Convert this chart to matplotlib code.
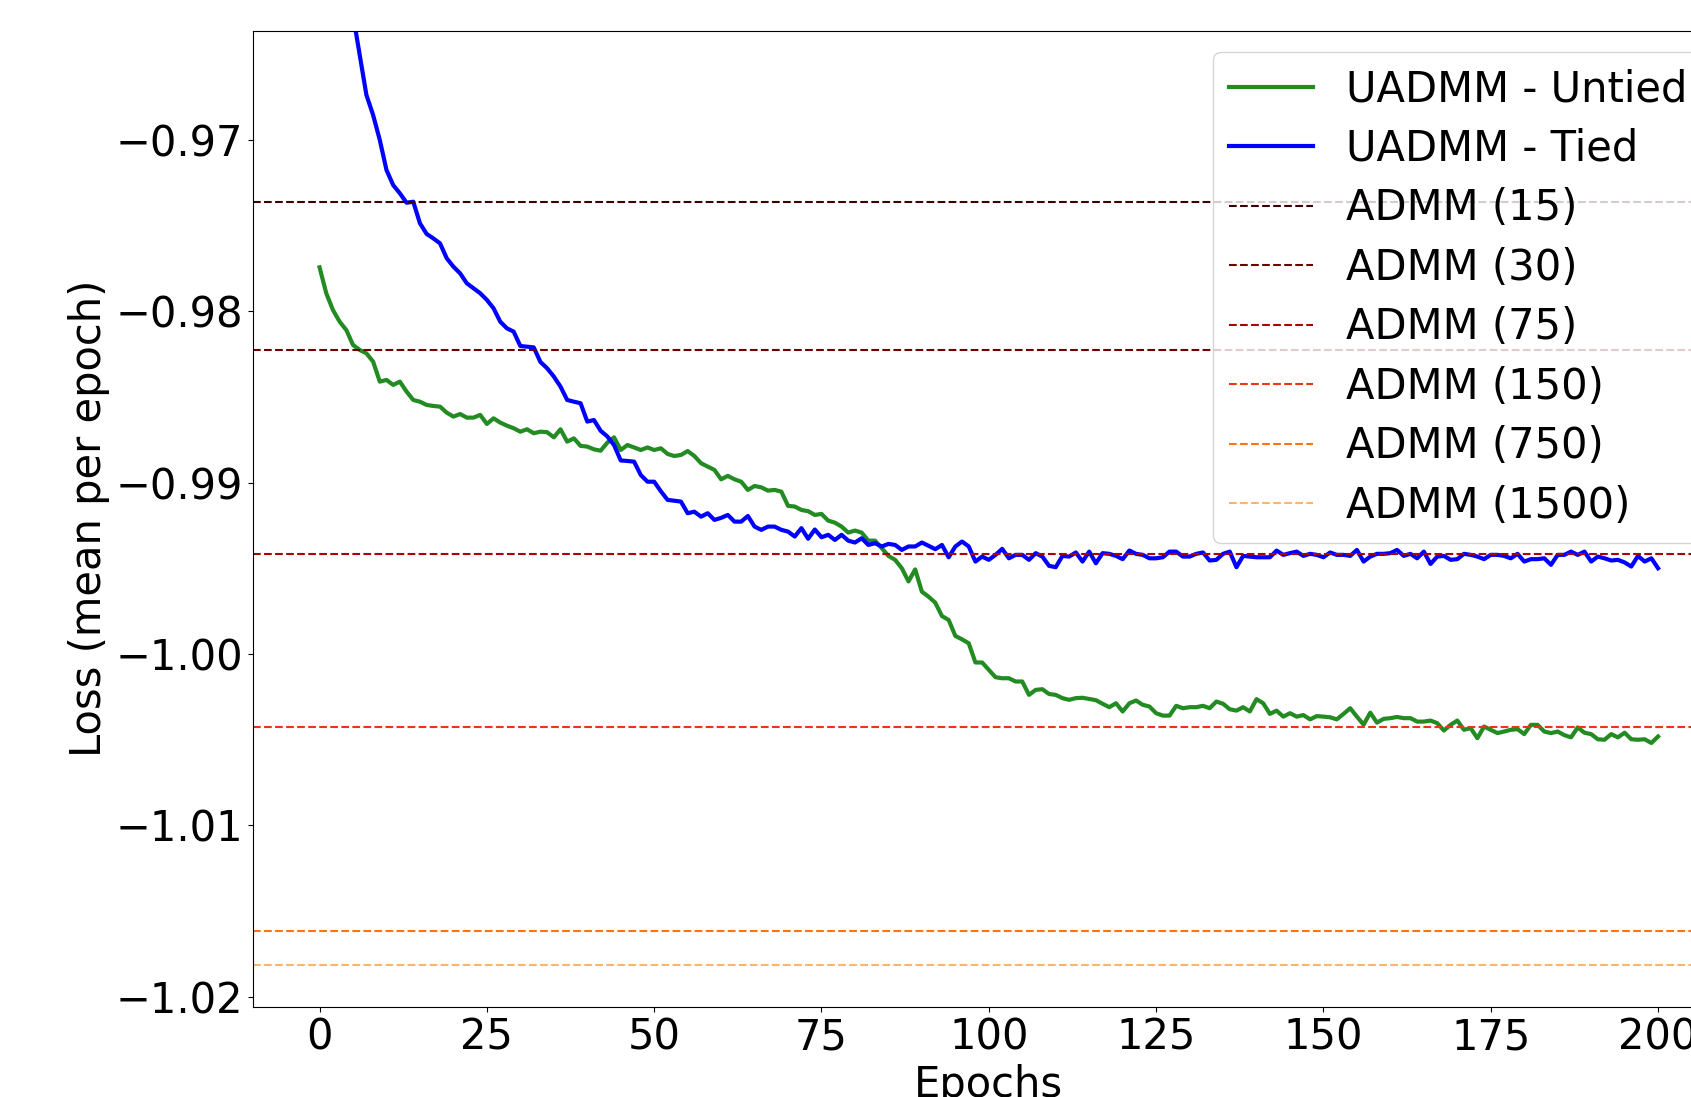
import numpy as np
import matplotlib
matplotlib.use("Agg")
import matplotlib.pyplot as plt

plt.rcParams["font.size"] = 30

epochs = np.arange(201)

# UADMM - Untied (mean loss per epoch)
loss_untied = [
    -0.97743, -0.97894, -0.97992, -0.98060, -0.98109, -0.98196, -0.98225, -0.98245, -0.98293, -0.98410,
    -0.98400, -0.98429, -0.98410, -0.98468, -0.98517, -0.98527, -0.98546, -0.98552, -0.98556, -0.98591,
    -0.98614, -0.98599, -0.98620, -0.98620, -0.98604, -0.98657, -0.98624, -0.98649, -0.98667, -0.98682,
    -0.98702, -0.98688, -0.98711, -0.98702, -0.98705, -0.98735, -0.98688, -0.98760, -0.98741, -0.98785,
    -0.98789, -0.98805, -0.98813, -0.98766, -0.98735, -0.98809, -0.98780, -0.98794, -0.98809, -0.98794,
    -0.98809, -0.98799, -0.98832, -0.98844, -0.98838, -0.98815, -0.98844, -0.98886, -0.98906, -0.98925,
    -0.98980, -0.98960, -0.98980, -0.98994, -0.99042, -0.99019, -0.99027, -0.99046, -0.99042, -0.99052,
    -0.99135, -0.99139, -0.99159, -0.99166, -0.99188, -0.99182, -0.99221, -0.99233, -0.99256, -0.99291,
    -0.99279, -0.99291, -0.99338, -0.99338, -0.99382, -0.99427, -0.99450, -0.99499, -0.99576, -0.99506,
    -0.99636, -0.99665, -0.99700, -0.99778, -0.99801, -0.99894, -0.99914, -0.99937, -1.00049, -1.00049,
    -1.00092, -1.00135, -1.00141, -1.00141, -1.00160, -1.00160, -1.00238, -1.00209, -1.00205, -1.00233,
    -1.00238, -1.00257, -1.00267, -1.00257, -1.00255, -1.00262, -1.00269, -1.00290, -1.00310, -1.00287,
    -1.00335, -1.00287, -1.00271, -1.00296, -1.00306, -1.00345, -1.00359, -1.00359, -1.00302, -1.00316,
    -1.00310, -1.00310, -1.00302, -1.00316, -1.00277, -1.00290, -1.00322, -1.00330, -1.00310, -1.00335,
    -1.00263, -1.00287, -1.00349, -1.00330, -1.00365, -1.00345, -1.00365, -1.00356, -1.00381, -1.00362,
    -1.00365, -1.00369, -1.00381, -1.00349, -1.00316, -1.00365, -1.00412, -1.00342, -1.00400, -1.00378,
    -1.00374, -1.00367, -1.00374, -1.00374, -1.00394, -1.00394, -1.00388, -1.00403, -1.00446, -1.00413,
    -1.00388, -1.00442, -1.00432, -1.00491, -1.00423, -1.00442, -1.00461, -1.00452, -1.00442, -1.00438,
    -1.00467, -1.00413, -1.00413, -1.00452, -1.00461, -1.00452, -1.00473, -1.00486, -1.00428, -1.00459,
    -1.00467, -1.00497, -1.00500, -1.00467, -1.00486, -1.00459, -1.00497, -1.00500, -1.00497, -1.00519,
    -1.00481,
]

# UADMM - Tied (first epochs are above the visible range)
loss_tied = [
    -0.94200, -0.94900, -0.95350, -0.95720, -0.96020, -0.96270, -0.96504, -0.96737, -0.96854, -0.97000,
    -0.97175, -0.97263, -0.97311, -0.97366, -0.97360, -0.97486, -0.97548, -0.97574, -0.97603, -0.97690,
    -0.97739, -0.97778, -0.97836, -0.97865, -0.97894, -0.97933, -0.97982, -0.98060, -0.98099, -0.98118,
    -0.98202, -0.98206, -0.98210, -0.98295, -0.98332, -0.98380, -0.98439, -0.98517, -0.98527, -0.98536,
    -0.98643, -0.98634, -0.98697, -0.98730, -0.98780, -0.98870, -0.98873, -0.98877, -0.98955, -0.98994,
    -0.98994, -0.99050, -0.99100, -0.99105, -0.99110, -0.99178, -0.99169, -0.99198, -0.99178, -0.99217,
    -0.99205, -0.99188, -0.99227, -0.99227, -0.99194, -0.99256, -0.99275, -0.99256, -0.99256, -0.99275,
    -0.99285, -0.99314, -0.99265, -0.99327, -0.99273, -0.99318, -0.99304, -0.99334, -0.99304, -0.99338,
    -0.99349, -0.99324, -0.99363, -0.99353, -0.99372, -0.99357, -0.99363, -0.99392, -0.99372, -0.99372,
    -0.99349, -0.99368, -0.99388, -0.99363, -0.99435, -0.99372, -0.99343, -0.99372, -0.99460, -0.99431,
    -0.99450, -0.99421, -0.99386, -0.99441, -0.99421, -0.99421, -0.99450, -0.99411, -0.99431, -0.99485,
    -0.99493, -0.99427, -0.99431, -0.99407, -0.99460, -0.99402, -0.99470, -0.99411, -0.99415, -0.99427,
    -0.99446, -0.99396, -0.99415, -0.99421, -0.99441, -0.99441, -0.99435, -0.99402, -0.99402, -0.99431,
    -0.99431, -0.99415, -0.99407, -0.99454, -0.99450, -0.99415, -0.99402, -0.99493, -0.99427, -0.99431,
    -0.99435, -0.99435, -0.99435, -0.99396, -0.99421, -0.99411, -0.99402, -0.99427, -0.99415, -0.99421,
    -0.99435, -0.99407, -0.99421, -0.99421, -0.99427, -0.99392, -0.99460, -0.99431, -0.99415, -0.99415,
    -0.99411, -0.99392, -0.99427, -0.99415, -0.99441, -0.99402, -0.99474, -0.99431, -0.99427, -0.99450,
    -0.99446, -0.99415, -0.99421, -0.99431, -0.99446, -0.99421, -0.99421, -0.99427, -0.99441, -0.99415,
    -0.99460, -0.99446, -0.99446, -0.99441, -0.99479, -0.99421, -0.99421, -0.99402, -0.99421, -0.99402,
    -0.99460, -0.99431, -0.99441, -0.99454, -0.99450, -0.99465, -0.99489, -0.99427, -0.99460, -0.99441,
    -0.99499,
]

# ADMM baselines (number of iterations -> final loss)
admm_iters = [15, 30, 75, 150, 750, 1500]
admm_loss = [-0.97360, -0.98225, -0.99415, -1.00423, -1.01615, -1.01813]
admm_colors = ["#3d0000", "#6e0000", "#ad0000", "#f03310", "#ff7410", "#ffb468"]

fig = plt.figure(figsize=(16.91, 10.97), dpi=100)
ax = fig.add_axes([0.1494, 0.0823, 0.8707, 0.8897])

ax.plot(epochs, loss_untied, color="forestgreen", lw=3, label="UADMM - Untied")
ax.plot(epochs, loss_tied, color="blue", lw=3, label="UADMM - Tied")
for it, val, col in zip(admm_iters, admm_loss, admm_colors):
    ax.axhline(val, color=col, ls="--", lw=1.5, label=f"ADMM ({it})")

ax.set_xlim(-10, 210)
ax.set_ylim(-1.02058, -0.96362)
ax.ticklabel_format(axis="y", useOffset=False)
ax.set_xlabel("Epochs")
ax.set_ylabel("Loss (mean per epoch)")
ax.legend(loc="upper right", labelspacing=0.42)

fig.savefig("out.png", dpi=100)
